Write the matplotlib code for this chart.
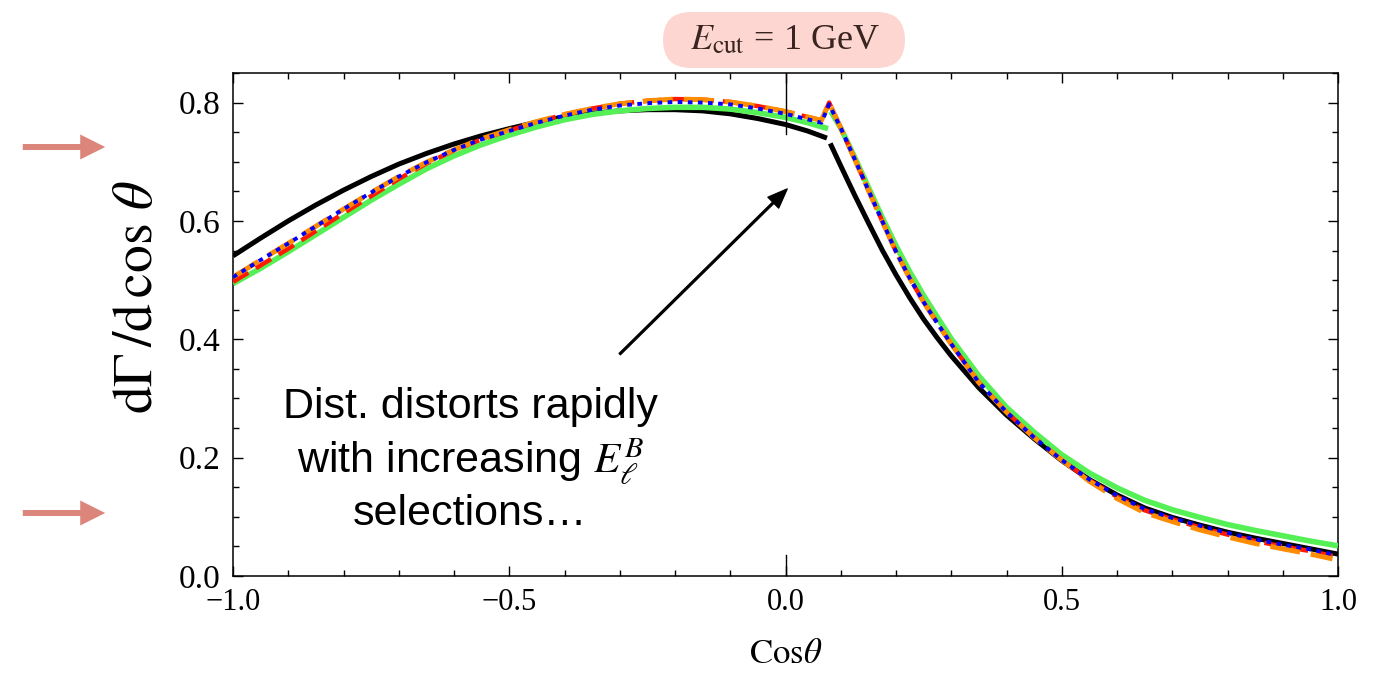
import matplotlib
matplotlib.use("Agg")
import matplotlib.pyplot as plt
from matplotlib.patches import FancyBboxPatch, FancyArrowPatch
from matplotlib.transforms import IdentityTransform
from matplotlib.ticker import MultipleLocator

plt.rcParams['font.family'] = ['Liberation Serif', 'DejaVu Serif']
plt.rcParams['mathtext.fontset'] = 'stix'

# ---------------- data ----------------
left_x = [-1.0, -0.95, -0.9, -0.85, -0.8, -0.75, -0.7, -0.65, -0.6, -0.55, -0.5, -0.45,
          -0.4, -0.35, -0.3, -0.25, -0.2, -0.15, -0.1, -0.05, 0.0]

black_left_x = left_x + [0.04, 0.075]
black_left_y = [0.541, 0.571, 0.600, 0.627, 0.652, 0.675, 0.696, 0.714, 0.730, 0.744, 0.756,
                0.767, 0.776, 0.782, 0.786, 0.788, 0.788, 0.786, 0.781, 0.773, 0.763, 0.752, 0.740]
black_right_x = [0.081, 0.10, 0.125, 0.15, 0.175, 0.2, 0.225, 0.25, 0.275, 0.3, 0.35, 0.4, 0.45,
                 0.5, 0.55, 0.6, 0.65, 0.7, 0.75, 0.8, 0.85, 0.9, 0.95, 1.0]
black_right_y = [0.731, 0.693, 0.644, 0.597, 0.551, 0.509, 0.470, 0.434, 0.402, 0.372, 0.318,
                 0.272, 0.232, 0.195, 0.163, 0.137, 0.115, 0.099, 0.086, 0.074, 0.064, 0.055, 0.046, 0.037]

green_left_x = left_x + [0.04, 0.077]
green_left_y = [0.494, 0.520, 0.548, 0.577, 0.606, 0.635, 0.662, 0.688, 0.710, 0.729, 0.745,
                0.759, 0.771, 0.780, 0.786, 0.790, 0.792, 0.792, 0.789, 0.783, 0.775, 0.766, 0.756]
green_right_x = [0.082, 0.10, 0.125, 0.15, 0.175, 0.2, 0.225, 0.25, 0.275, 0.3, 0.35, 0.4, 0.45,
                 0.5, 0.55, 0.6, 0.65, 0.7, 0.75, 0.8, 0.85, 0.9, 0.95, 1.0]
green_right_y = [0.785, 0.757, 0.708, 0.657, 0.606, 0.558, 0.514, 0.474, 0.437, 0.401, 0.338,
                 0.285, 0.243, 0.205, 0.174, 0.149, 0.128, 0.112, 0.099, 0.087, 0.077, 0.068, 0.059, 0.051]

cut_x = left_x + [0.03, 0.065, 0.079, 0.10, 0.125, 0.15, 0.175, 0.2, 0.225, 0.25, 0.275, 0.3,
                  0.35, 0.4, 0.45, 0.5, 0.55, 0.6, 0.65, 0.7, 0.75, 0.8, 0.85, 0.9, 0.95, 0.99]
orange_y = [0.505, 0.534, 0.562, 0.591, 0.620, 0.648, 0.675, 0.699, 0.720, 0.739, 0.754, 0.768,
            0.780, 0.790, 0.798, 0.803, 0.806, 0.805, 0.801, 0.794, 0.785, 0.778, 0.770, 0.800,
            0.757, 0.705, 0.652, 0.600, 0.548, 0.503, 0.463, 0.427, 0.392, 0.327, 0.277, 0.234,
            0.196, 0.160, 0.131, 0.107, 0.092, 0.078, 0.066, 0.055, 0.046, 0.037, 0.029]
red_y = [0.497, 0.525, 0.553, 0.583, 0.613, 0.642, 0.671, 0.697, 0.719, 0.738, 0.753, 0.767,
         0.780, 0.790, 0.798, 0.803, 0.806, 0.805, 0.801, 0.794, 0.785, 0.778, 0.770, 0.800,
         0.757, 0.705, 0.652, 0.600, 0.548, 0.503, 0.463, 0.427, 0.392, 0.327, 0.277, 0.234,
         0.196, 0.162, 0.134, 0.111, 0.096, 0.082, 0.070, 0.059, 0.050, 0.042, 0.034]
blue_y = [0.505, 0.534, 0.562, 0.591, 0.620, 0.648, 0.675, 0.699, 0.720, 0.738, 0.752, 0.766,
          0.778, 0.788, 0.795, 0.799, 0.801, 0.800, 0.797, 0.790, 0.781, 0.774, 0.766, 0.797,
          0.757, 0.705, 0.652, 0.600, 0.548, 0.503, 0.463, 0.427, 0.392, 0.327, 0.277, 0.234,
          0.196, 0.163, 0.136, 0.113, 0.098, 0.085, 0.073, 0.062, 0.053, 0.045, 0.037]

x_ticks = [-1.0, -0.5, 0.0, 0.5, 1.0]
y_ticks = [0.0, 0.2, 0.4, 0.6, 0.8]

# ---------------- figure ----------------
fig = plt.figure(figsize=(13.84, 6.75), dpi=100)
ax = fig.add_axes([233/1384, 1-576/675, 1105/1384, 503/675])

ax.plot(black_left_x, black_left_y, color='black', lw=3.6, solid_capstyle='butt', zorder=3)
ax.plot(black_right_x, black_right_y, color='black', lw=3.6, solid_capstyle='butt', zorder=3)
ax.plot(green_left_x, green_left_y, color='#55f055', lw=4.0, solid_capstyle='butt', zorder=4)
ax.plot(green_right_x, green_right_y, color='#55f055', lw=4.0, solid_capstyle='butt', zorder=4)
ax.plot(cut_x, red_y, color='#ff1a00', lw=3.2, dashes=(4, 2), zorder=5)
ax.plot(cut_x, orange_y, color='#ff8c00', lw=3.6, dashes=(6, 2.2), zorder=6)
ax.plot(cut_x, blue_y, color='#0000ff', lw=2.8, dashes=(1.2, 1.4), zorder=7)

# vertical marker at x = 0 (partly hidden behind annotation)
ax.plot([0, 0], [0.747, 0.85], color='black', lw=1.0, zorder=8)
ax.plot([0, 0], [0.0, 0.036], color='black', lw=1.0, zorder=8)

ax.set_xlim(-1, 1)
ax.set_ylim(0, 0.85)
ax.set_xticks(x_ticks)
ax.set_yticks(y_ticks)
ax.set_xticklabels([f"{v:.1f}".replace('-', '\u2212') for v in x_ticks], fontsize=22)
ax.set_yticklabels([f"{v:.1f}" for v in y_ticks], fontsize=24)
ax.xaxis.set_minor_locator(MultipleLocator(0.1))
ax.yaxis.set_minor_locator(MultipleLocator(0.05))
ax.tick_params(which='both', direction='in', top=True, right=True, width=1.0)
ax.tick_params(which='major', length=7, pad=9)
ax.tick_params(which='minor', length=4)
for s in ax.spines.values():
    s.set_linewidth(1.1)

ax.set_xlabel(r'$\mathrm{Cos}\theta$', fontsize=25, labelpad=15)
ax.set_ylabel(r'$\mathrm{d}\Gamma\,/\mathrm{d}\,\cos\,\theta$', fontsize=40)
ax.yaxis.set_label_coords(-0.062, 0.555)

# annotation
ax.annotate('', xy=(0.003, 0.654), xytext=(-0.30, 0.375),
            arrowprops=dict(facecolor='black', edgecolor='black', width=1.3,
                            headwidth=11, headlength=14, shrink=0))
ax.text(-0.571, 0.195, 'Dist. distorts rapidly\nwith increasing $E_\\ell^B$\nselections\u2026',
        ha='center', va='center', fontsize=31, linespacing=1.25,
        family=['Liberation Sans', 'DejaVu Sans'], zorder=9)

# E_cut label box
box = FancyBboxPatch((663, 675-68), 242, 56, boxstyle='round,pad=0,rounding_size=28',
                     transform=IdentityTransform(), facecolor='#fdd6d1', edgecolor='none')
fig.add_artist(box)
fig.text(785/1384, 1-41/675, r'$E_{\mathrm{cut}}$ = 1 GeV', ha='center', va='center',
         fontsize=26, color='#3a2420')

# pink side arrows
for yy in (675-147, 675-513):
    arr = FancyArrowPatch(posA=(20, yy), posB=(108, yy),
                          arrowstyle='simple,head_length=18,head_width=18,tail_width=4.3',
                          mutation_scale=1, transform=IdentityTransform(),
                          color='#dc867b', lw=0)
    fig.add_artist(arr)

fig.savefig('out.png', dpi=100)
